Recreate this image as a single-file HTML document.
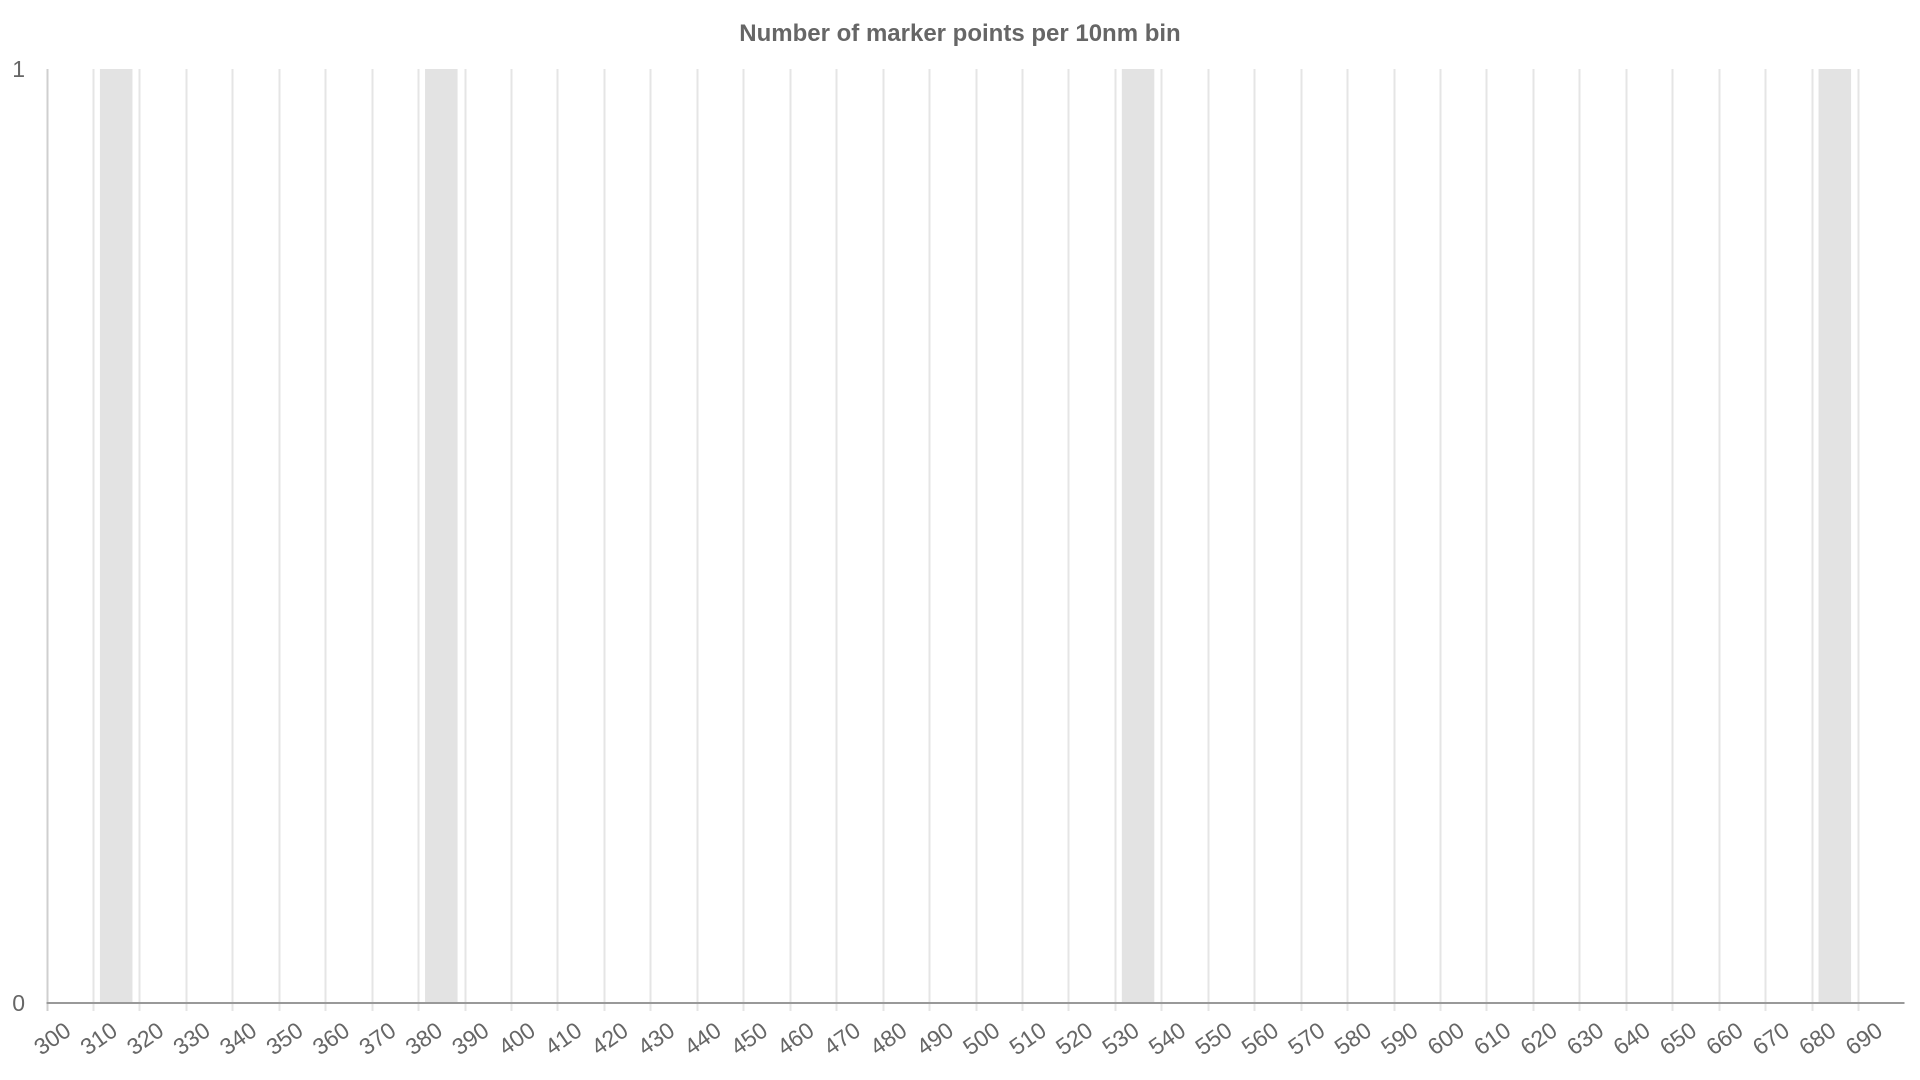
<!DOCTYPE html>
<html><head><meta charset="utf-8"><style>
html,body{margin:0;padding:0;background:#fff;}
svg{display:block;font-family:"Liberation Sans",Arial,sans-serif;}
</style></head><body>
<svg id="chart" width="1920" height="1080" viewBox="0 0 1920 1080" xmlns="http://www.w3.org/2000/svg">
<text x="960" y="41" text-anchor="middle" font-size="24" font-weight="bold" fill="#666">Number of marker points per 10nm bin</text>
<g id="grid"></g><g id="bars"></g><g id="axes"></g><g id="labels"></g>
</svg>
<script>
const binStarts = [300,310,320,330,340,350,360,370,380,390,400,410,420,430,440,450,460,470,480,490,500,510,520,530,540,550,560,570,580,590,600,610,620,630,640,650,660,670,680,690];
const counts = [0,1,0,0,0,0,0,0,1,0,0,0,0,0,0,0,0,0,0,0,0,0,0,1,0,0,0,0,0,0,0,0,0,0,0,0,0,0,1,0];
const yTicks = [0,1];
const binWidth = 10;

const NS = 'http://www.w3.org/2000/svg';
const x0 = 46.5, x1 = 1904.5, yTop = 69, yBot = 1003;
const xMin = 300, xMax = 700, yMax = 1;
const xs = v => x0 + (v - xMin) / (xMax - xMin) * (x1 - x0);
const ys = v => yBot - v / yMax * (yBot - yTop);
function mk(tag, attrs, parent){const e=document.createElementNS(NS,tag);for(const k in attrs)e.setAttribute(k,attrs[k]);parent.appendChild(e);return e;}
const grid=document.getElementById('grid'), bars=document.getElementById('bars'), axes=document.getElementById('axes'), labels=document.getElementById('labels');

binStarts.forEach((b,i)=>{
  const gx = Math.round(xs(b))+0.5;
  const g = mk('line',{x1:gx,x2:gx,y1:yTop,y2:yBot+8,stroke:i===0?'#cfcfcf':'#e5e5e5','stroke-width':2},grid);
  
  
  const t = mk('text',{x:0,y:0,'text-anchor':'end','font-size':23,fill:'#666',transform:`translate(${xs(b)+26},${yBot+31}) rotate(-35)`},labels);
  t.textContent = b;
  
  
});
binStarts.forEach((b,i)=>{
  if(counts[i]<=0) return;
  const w = xs(b+binWidth)-xs(b);
  const pad = w*0.15;
  const r = mk('rect',{x:xs(b)+pad,y:ys(counts[i]),width:w-2*pad,height:ys(0)-ys(counts[i]),fill:'#e3e3e3'},bars);
  
  
});
const ax = mk('line',{x1:x0,x2:x1,y1:yBot,y2:yBot,stroke:'#999','stroke-width':2},axes);


yTicks.forEach(v=>{
  const t = mk('text',{x:25,y:ys(v)+8,'text-anchor':'end','font-size':23,fill:'#666'},labels);
  t.textContent = v;
  
  
});
</script>
</body></html>
